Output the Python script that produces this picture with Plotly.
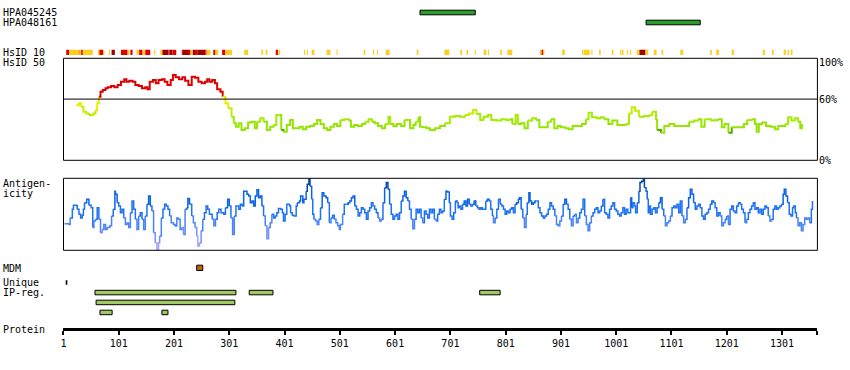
import plotly.graph_objects as go

# ---------------- data ----------------
protein_length = 1365
tick_vals = [1, 101, 201, 301, 401, 501, 601, 701, 801, 901, 1001, 1101, 1201, 1301, 1365]
tick_text = ["1", "101", "201", "301", "401", "501", "601", "701", "801", "901",
             "1001", "1101", "1201", "1301", ""]

# antigen (PrEST) bars
hpa_names = ["HPA045245", "HPA048161"]
hpa_start = [646, 1055]
hpa_end = [746, 1153]

# HsID 10 identity strip: level 0 = medium, 1 = high, 2 = very high
hsid10_start = [6, 11, 29, 30, 33, 36, 63, 66, 73, 83, 88, 105, 117, 122, 133, 138, 144, 149, 165, 176,
                180, 191, 193, 198, 215, 217, 228, 231, 235, 239, 243, 258, 260, 272, 276, 288, 294, 328,
                359, 367, 385, 390, 436, 441, 450, 477, 495, 544, 561, 568, 584, 640, 690, 719, 730, 745,
                761, 769, 791, 804, 863, 866, 869, 903, 939, 942, 956, 970, 993, 1008, 1011, 1020, 1026,
                1038, 1043, 1054, 1069, 1083, 1117, 1171, 1182, 1210, 1266, 1283, 1304, 1311, 1317]
hsid10_end = [11, 29, 30, 33, 36, 54, 66, 73, 75, 85, 94, 117, 120, 126, 138, 144, 149, 158, 167, 180,
              191, 193, 198, 205, 217, 228, 231, 235, 239, 243, 258, 260, 267, 276, 281, 294, 306, 335,
              362, 370, 389, 393, 438, 443, 455, 484, 497, 547, 563, 570, 591, 643, 699, 722, 733, 747,
              766, 771, 794, 813, 866, 869, 871, 908, 941, 953, 958, 973, 996, 1010, 1014, 1022, 1028,
              1043, 1054, 1059, 1074, 1086, 1122, 1174, 1187, 1214, 1270, 1286, 1308, 1314, 1320]
hsid10_level = [1, 0, 1, 0, 1, 0, 0, 1, 0, 0, 2, 1, 0, 1, 0, 1, 0, 1, 0, 0,
                2, 1, 2, 1, 1, 2, 1, 0, 2, 1, 2, 1, 0, 1, 0, 1, 0, 0,
                0, 0, 1, 0, 0, 0, 0, 0, 0, 0, 0, 0, 0, 0, 0, 0, 0, 0,
                0, 0, 0, 0, 0, 1, 0, 0, 0, 0, 0, 0, 0, 0, 0, 0, 0,
                0, 2, 0, 0, 0, 0, 0, 0, 0, 0, 0, 0, 0, 0]

# HsID 50 identity (%)
hsid50_pos = [24, 29, 33, 37, 42, 47, 51, 55, 59, 62,
              65, 68, 72, 77, 81, 87, 93, 99, 105, 111,
              115, 120, 126, 131, 137, 143, 149, 153, 157, 163,
              168, 173, 179, 184, 189, 195, 199, 204, 210, 216,
              221, 227, 233, 239, 245, 251, 257, 261, 265, 270,
              275, 279, 285, 289, 294, 299, 305, 309, 313, 318,
              323, 329, 335, 341, 347, 351, 357, 363, 369, 375,
              381, 386, 392, 395, 399, 405, 411, 416, 422, 428,
              434, 440, 447, 454, 460, 466, 472, 478, 484, 490,
              496, 502, 509, 517, 521, 527, 533, 541, 547, 553,
              559, 564, 570, 577, 583, 589, 592, 598, 604, 612,
              618, 625, 628, 634, 638, 643, 646, 652, 658, 664,
              673, 682, 691, 700, 709, 718, 727, 735, 742, 748,
              755, 761, 769, 775, 784, 793, 802, 808, 813, 819,
              823, 829, 835, 841, 849, 856, 862, 871, 877, 883,
              889, 895, 901, 909, 915, 922, 931, 939, 946, 951,
              957, 966, 973, 979, 987, 994, 1003, 1012, 1018, 1024,
              1029, 1035, 1042, 1051, 1061, 1066, 1073, 1075, 1082, 1088,
              1097, 1106, 1115, 1124, 1133, 1142, 1149, 1155, 1161, 1167,
              1173, 1180, 1185, 1192, 1197, 1204, 1210, 1218, 1226, 1232,
              1238, 1246, 1252, 1255, 1259, 1265, 1272, 1280, 1288, 1294,
              1301, 1307, 1312, 1318, 1324, 1330, 1334, 1337]
hsid50_val = [54, 56, 52.6, 47.7, 46, 44.4, 44.4, 46, 49, 56,
              62.4, 67.3, 69, 70.6, 71.6, 72.9, 71.6, 73.9, 77, 79.4,
              77, 78, 77, 73.9, 72.9, 70.6, 71.6, 69.6, 77, 78.8,
              75.5, 78.8, 79.4, 77, 73.9, 78.8, 83.7, 81.4, 79.4, 81.4,
              78, 73.9, 82, 81, 77, 75.5, 77, 79.4, 77, 78.8,
              75.5, 69.6, 67.3, 62.4, 56, 51, 42.8, 36.3, 33, 36.3,
              29.7, 31.4, 37, 37.9, 31.4, 37.9, 41.2, 37.9, 29.7, 33,
              34.6, 44.4, 44.4, 29.7, 28, 34.6, 39.5, 31.4, 31.4, 33,
              30.4, 33, 33.7, 35.6, 39.5, 35.6, 31.4, 29.7, 33, 35.6,
              33.7, 39.5, 40.2, 38.9, 33, 34.6, 33.7, 35.6, 37.9, 40.2,
              37.9, 36.3, 33.7, 31.4, 35.6, 42.8, 35.6, 33.7, 35.6, 33.7,
              39.5, 39.5, 31.4, 34.6, 37.9, 42.2, 33, 32.4, 31.4, 29.7,
              31.4, 33.7, 36.3, 42.8, 43.5, 42.8, 44.4, 46, 49.3, 45.4,
              39.5, 42.8, 44.4, 39.5, 38.9, 40.2, 39.5, 40.2, 35.6, 44.4,
              35.6, 36.3, 31.4, 38.9, 41.2, 39.5, 32.4, 32.4, 37.9, 40.2,
              31.4, 33.7, 32.4, 31.4, 30.4, 33.7, 33.7, 35.6, 40.2, 46.7,
              42.2, 41.2, 42.2, 40.2, 35.6, 38.9, 34.6, 34.6, 35.6, 46,
              52, 48.7, 42.8, 43.5, 44.4, 47.7, 39.5, 29.7, 27, 33.7,
              35.6, 33.7, 33.7, 33.7, 37.9, 38.9, 40.2, 33, 40.2, 40.2,
              38.9, 39.5, 40.2, 32.4, 35.6, 27, 32.4, 32.4, 32.4, 35.6,
              39.5, 40.2, 35.6, 28, 35.6, 37, 33.7, 33, 30.4, 33.7,
              33.7, 35.6, 42.2, 38.9, 41.2, 37.9, 31.4, 35.6]

# antigenicity (relative scale 0-100 of panel height)
antig_pos = [3, 11, 13, 17, 19, 25, 26, 29, 32, 35,
             37, 39, 43, 47, 51, 54, 56, 59, 62, 65,
             68, 71, 74, 77, 80, 85, 88, 91, 94, 95,
             98, 101, 104, 107, 110, 113, 116, 119, 122, 125,
             128, 131, 134, 137, 140, 143, 146, 149, 152, 155,
             158, 161, 164, 167, 170, 173, 175, 178, 181, 184,
             187, 190, 193, 196, 200, 203, 206, 209, 212, 215,
             218, 221, 224, 226, 229, 233, 236, 239, 242, 244,
             247, 250, 253, 256, 259, 262, 265, 270, 273, 276,
             279, 282, 286, 291, 294, 298, 301, 304, 307, 310,
             313, 318, 321, 324, 327, 330, 333, 336, 339,
             342, 345, 348, 351, 354, 357, 360, 363, 366, 369,
             372, 375, 378, 381, 384, 387, 390, 394, 397, 399,
             402, 405, 410, 412, 415, 418, 422, 424, 428, 430,
             434, 436, 440, 442, 445, 447, 450, 452, 454, 457,
             460, 463, 466, 469, 472, 476, 479, 482, 485, 488,
             491, 494, 497, 500, 502, 506, 509, 513, 516, 519,
             522, 525, 528, 531, 534, 537, 540, 543, 546, 549,
             552, 555, 558, 561, 564, 567, 570, 573, 576, 579,
             582, 585, 588, 591, 594, 597, 600, 603, 606, 609,
             612, 615, 618, 621, 624, 627, 630, 633, 636, 639,
             642, 645, 648, 651, 654, 657, 660, 663, 666, 669,
             672, 675, 678,
             681, 684, 687, 690, 693, 696, 699, 701, 704, 707,
             710, 713, 715, 717, 720, 723, 726, 729, 732, 735,
             738, 741, 744, 747, 750, 753, 756, 759, 762, 765,
             768, 771, 774, 777, 779, 782, 785, 788, 791, 794,
             797, 800, 803, 806, 809, 812, 815, 818, 821, 824,
             826, 829, 832, 835, 838, 840, 843, 845, 848, 851,
             854, 857, 860, 863, 866, 869, 872, 875, 878, 881,
             884, 887, 890, 893, 896, 899, 902, 905, 908, 911,
             914, 917, 920, 923, 926, 929, 932, 935, 938, 941,
             944, 947, 950, 953, 956, 959, 962, 965, 968, 971,
             974, 977, 980, 983, 986, 989, 992, 995, 998, 1001,
             1004, 1007, 1010, 1013, 1016, 1019, 1022,
             1024, 1027, 1029, 1031, 1034, 1036, 1039, 1042, 1044, 1047,
             1050, 1052, 1055, 1057, 1059, 1061, 1063, 1066, 1069, 1072,
             1075, 1078, 1081, 1084, 1087, 1090, 1093, 1096, 1099, 1102,
             1105, 1108, 1111, 1114, 1117, 1120, 1123, 1126, 1129, 1132,
             1135, 1138, 1141, 1144, 1147, 1150, 1153, 1156, 1159, 1162,
             1165, 1168, 1171, 1174, 1177, 1180, 1183, 1186, 1189, 1192,
             1195, 1198, 1201, 1204, 1207, 1210, 1213, 1216, 1219, 1222,
             1225, 1228, 1231, 1234, 1237, 1240, 1243, 1246, 1249, 1252,
             1255, 1258, 1261, 1264, 1267, 1270, 1273, 1276, 1279, 1282,
             1285, 1288, 1291, 1294, 1297, 1300, 1303, 1305, 1308, 1311,
             1314, 1317, 1320, 1322, 1325, 1327, 1330, 1333, 1336, 1339,
             1342, 1345, 1348, 1351, 1354, 1356]
antig_val = [37, 36, 45, 57, 62.5, 61.6, 57, 50, 45, 48.6,
             57, 66, 71, 62.5, 59, 31.5, 40.7, 43, 59, 43,
             24.5, 29, 36, 29, 31.5, 34, 47.7, 57, 82, 78,
             66, 61.6, 52, 57, 45, 36, 38, 31.5, 52, 68.5,
             57, 43, 29, 47.7, 52, 43, 29, 47.7, 64, 75.5,
             61.6, 54.6, 24.5, 10.6, 0.5, 10.6, 20, 45, 57, 64,
             61.6, 57, 47.7, 38.4, 36, 33.8, 45, 43, 29, 31.5,
             22, 57, 59, 72, 64, 47.7, 38.4, 31.5, 20, 6,
             10.6, 27, 43, 52, 61.6, 57, 50, 43, 34, 43,
             52, 57, 52, 50, 59, 71, 61.6, 45, 22, 47.7,
             61.6, 57, 64, 61.6, 82, 82, 78, 75.5, 66,
             68.5, 61.6, 75.5, 84, 73, 75.5, 61.6, 47.7, 34, 16.2,
             31.5, 38.4, 50, 45, 47.7, 52, 58, 57, 52, 40.7,
             50, 64, 61.6, 52, 48.6, 47.7, 61.6, 66, 68.5, 75.5,
             66, 71, 82, 91.7, 98.6, 89, 71, 50, 43, 40.7,
             36, 43, 59, 80, 75.5, 73, 66, 38.4, 45, 48.6,
             43, 38.4, 34, 29, 36, 50, 64, 64, 66, 68.5,
             73, 75.5, 61.6, 57, 47.7, 52, 59, 57, 52, 43,
             54.6, 59, 66, 61.6, 57, 52, 45, 40.7, 43, 66,
             87, 94, 84.7, 64, 50, 43, 47.7, 50, 43, 52,
             68.5, 75.5, 82, 73, 68.5, 57, 43, 30, 43, 57,
             52, 57, 45, 38.4, 54.6, 50, 45, 57, 52, 57,
             43, 40.7, 50,
             57, 52, 54.6, 71, 82, 81, 66, 47.7, 43, 52,
             68.5, 66, 59, 61.6, 57, 64, 68.5, 61.6, 71, 64,
             61.6, 64, 68.5, 61.6, 59, 57, 59, 57, 57, 68.5,
             71, 68.5, 57, 47.7, 38.4, 45, 57, 71, 64, 61.6,
             57, 50, 54.6, 52, 57, 59, 52, 64, 66, 71,
             73, 57, 45, 31.5, 50, 66, 80, 68.5, 64, 66,
             68.5, 68.5, 59, 52, 47.7, 45, 47.7, 50, 57, 66,
             61.6, 57, 47.7, 36, 34, 40.7, 47.7, 64, 71, 64,
             57, 43, 34, 47.7, 50, 38.4, 45, 52, 57, 71,
             47.7, 36, 27, 38.4, 47.7, 52, 57, 59, 52, 54.6,
             61.6, 71, 52, 50, 45, 57, 61.6, 66, 57, 54.6,
             50, 47.7, 52, 59, 50, 57, 52,
             52, 73, 59, 66, 61.6, 52, 66, 82, 94, 96,
             98.6, 87, 82, 71, 52, 61.6, 50, 57, 59, 52,
             59, 66, 73, 57, 47.7, 34, 38.4, 40.7, 47.7, 59,
             61.6, 59, 64, 52, 68.5, 47.7, 38.4, 43, 59, 73,
             84.7, 78, 66, 57, 61.6, 64, 59, 47.7, 43, 50,
             52, 57, 64, 68.5, 66, 59, 47.7, 52, 47.7, 34,
             38.4, 43, 47.7, 36, 57, 61.6, 54.6, 52, 61.6, 66,
             64, 57, 52, 38.4, 43, 52, 57, 61.6, 66, 57,
             59, 52, 57, 50, 57, 61.6, 59, 47.7, 40.7, 43,
             57, 61.6, 57, 59, 61.6, 64, 78, 84.7, 75.5, 66,
             50, 47.7, 59, 61.6, 52, 45, 34, 38.4, 27, 36,
             45, 43, 45, 38.4, 57, 68.5]

mdm_start, mdm_end = [242], [253]
unique_start, unique_end = [5], [8]
ipreg_start = [58, 337, 754, 60, 67, 179]
ipreg_end = [313, 380, 791, 311, 89, 190]
ipreg_row = [0, 0, 0, 1, 2, 2]

# ---------------- layout helpers (pixel geometry) ----------------
W, H = 850, 370
X0_PX, X1_PX = 60.7, 817.3
FONT = dict(family="DejaVu Sans Mono", size=10, color="black")


def py(px):
    return 1 - px / H


def hsid50_color(v):
    if v >= 60:
        return "#dd0000"
    if v >= 52:
        return "#e6ee00"
    if v >= 45:
        return "#c4ee00"
    if v >= 38:
        return "#a4ec00"
    if v >= 30:
        return "#94e600"
    return "#55aa00"


def antig_color(v):
    if v >= 86:
        return "#0a48a6"
    if v >= 65:
        return "#0b63e6"
    if v >= 45:
        return "#1f72f2"
    if v >= 30:
        return "#4883f8"
    if v >= 15:
        return "#7690fa"
    return "#a6a2fa"


def add_colored_line(fig, xs, ys, colorfn, yaxis, width):
    segs = []
    for i in range(len(xs) - 1):
        c = colorfn((ys[i] + ys[i + 1]) / 2)
        if segs and segs[-1][0] == c:
            segs[-1][1].append(i + 1)
        else:
            segs.append([c, [i, i + 1]])
    for c, idx in segs:
        fig.add_trace(go.Scatter(
            x=[xs[k] for k in idx], y=[ys[k] for k in idx], mode="lines",
            line=dict(color=c, width=width, shape="hv"), xaxis="x", yaxis=yaxis,
            hoverinfo="skip", showlegend=False))


fig = go.Figure()
add_colored_line(fig, hsid50_pos, hsid50_val, hsid50_color, "y", 2)
add_colored_line(fig, antig_pos, antig_val, antig_color, "y2", 1.5)

shapes = []
# boxes
for yr in ("y domain", "y2 domain"):
    shapes.append(dict(type="rect", xref="x domain", yref=yr, x0=0, x1=1, y0=0, y1=1,
                       line=dict(color="black", width=1), layer="above"))
shapes.append(dict(type="line", xref="x domain", yref="y", x0=0, x1=1, y0=60, y1=60,
                   line=dict(color="black", width=1)))

# HPA antigen bars
hpa_rows_px = [(10.2, 14.8), (20.2, 24.8)]
for s, e, (t, b) in zip(hpa_start, hpa_end, hpa_rows_px):
    shapes.append(dict(type="rect", xref="x", yref="paper", x0=s, x1=e, y0=py(b), y1=py(t),
                       fillcolor="#2aa02a", line=dict(color="black", width=1)))

# HsID 10 strip
lvl_colors = ["#ffcc22", "#e00000", "#a30000"]
for s, e, lv in zip(hsid10_start, hsid10_end, hsid10_level):
    shapes.append(dict(type="rect", xref="x", yref="paper", x0=s, x1=e, y0=py(55), y1=py(49.7),
                       fillcolor=lvl_colors[lv], line=dict(width=0)))

# MDM
for s, e in zip(mdm_start, mdm_end):
    shapes.append(dict(type="rect", xref="x", yref="paper", x0=s, x1=e, y0=py(270.5), y1=py(265.2),
                       fillcolor="#b8650d", line=dict(color="black", width=1)))
# Unique
for s, e in zip(unique_start, unique_end):
    shapes.append(dict(type="rect", xref="x", yref="paper", x0=s, x1=e, y0=py(284.8), y1=py(280.2),
                       fillcolor="black", line=dict(width=0)))
# IP-reg
row_px = [(290.3, 294.8), (300.2, 304.7), (310.2, 314.7)]
for s, e, r in zip(ipreg_start, ipreg_end, ipreg_row):
    t, b = row_px[r]
    shapes.append(dict(type="rect", xref="x", yref="paper", x0=s, x1=e, y0=py(b), y1=py(t),
                       fillcolor="#a2c865", line=dict(color="black", width=1)))

annotations = []
left_labels = [(hpa_names[0], 12.7), (hpa_names[1], 22.7), ("HsID 10", 52.7), ("HsID 50", 62.7),
               ("Antigen-", 183.3), ("icity", 193.0), ("MDM", 268.0), ("Unique", 282.7),
               ("IP-reg.", 292.7), ("Protein", 329.5)]
for txt, ypx in left_labels:
    annotations.append(dict(text=txt, xref="paper", yref="paper", x=0, xshift=-2, y=py(ypx),
                            xanchor="left", yanchor="middle", showarrow=False, font=FONT))
for txt, yv, sh in [("100%", 100, -4.3), ("60%", 60, 0), ("0%", 0, 0)]:
    annotations.append(dict(text=txt, xref="paper", yref="y", x=817 / W, y=yv, yshift=sh,
                            xanchor="left", yanchor="middle", showarrow=False, font=FONT))

fig.update_layout(
    width=W, height=H, margin=dict(l=0, r=0, t=0, b=0),
    paper_bgcolor="white", plot_bgcolor="white", showlegend=False,
    shapes=shapes, annotations=annotations,
    xaxis=dict(domain=[X0_PX / W, X1_PX / W], range=[1, protein_length], anchor="free",
               position=py(329.2), showline=True, linecolor="black", linewidth=3,
               ticks="outside", ticklen=4, tickwidth=2, tickcolor="black",
               tickvals=tick_vals, ticktext=tick_text, tickfont=FONT,
               showgrid=False, zeroline=False, fixedrange=True),
    yaxis=dict(domain=[py(160.3), py(58.3)], range=[0, 100], anchor="x", visible=False,
               fixedrange=True),
    yaxis2=dict(domain=[py(250.3), py(178.3)], range=[0, 100], anchor="x", visible=False,
                fixedrange=True),
)

fig.write_html("out.html", config={"displayModeBar": False},
               post_script="document.body.style.margin='0';document.body.style.padding='0';")
